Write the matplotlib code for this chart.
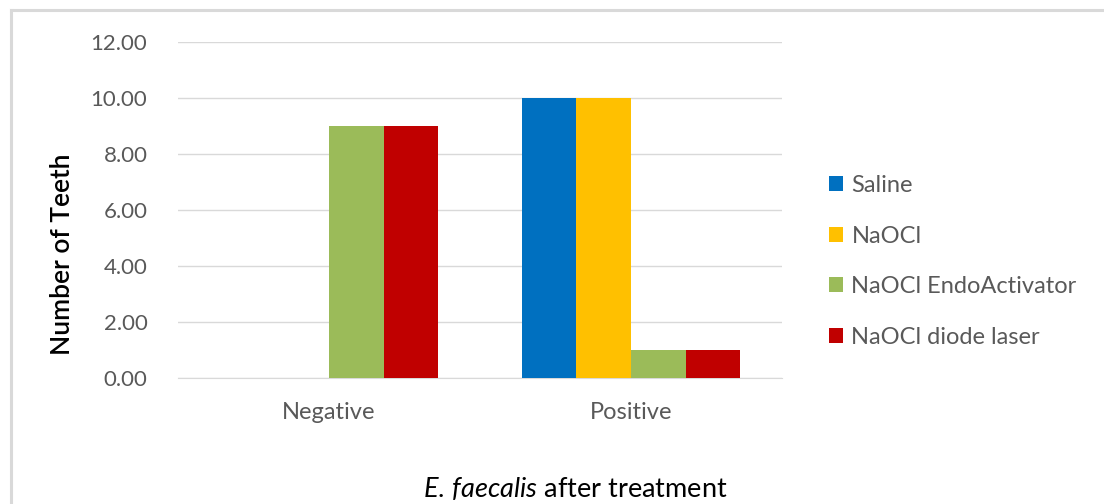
import matplotlib
matplotlib.use("Agg")
import matplotlib.pyplot as plt
import numpy as np
from matplotlib.lines import Line2D
from matplotlib.patches import Patch

categories = ["Negative", "Positive"]
series_names = ["Saline", "NaOCl", "NaOCl EndoActivator", "NaOCl diode laser"]
saline = [0, 10]
naocl = [0, 10]
endo = [9, 1]
laser = [9, 1]
yticks = [0, 2, 4, 6, 8, 10, 12]
colors = ["#0070C0", "#FFC000", "#9BBB59", "#C00000"]

plt.rcParams['font.family'] = ['Lato', 'DejaVu Sans']
plt.rcParams['mathtext.fontset'] = 'custom'
plt.rcParams['mathtext.it'] = 'Lato:italic'
plt.rcParams['mathtext.rm'] = 'Lato'

W, H = 1104, 504
fig = plt.figure(figsize=(W / 100, H / 100), dpi=100)
fig.patch.set_facecolor("white")

# outer frame (top and left visible)
fig.add_artist(Line2D([10.5 / W, 10.5 / W], [0, 1 - 9.5 / H], transform=fig.transFigure,
                      color="#d9d9d9", lw=2.2))
fig.add_artist(Line2D([10.5 / W, 1], [1 - 9.5 / H, 1 - 9.5 / H], transform=fig.transFigure,
                      color="#d9d9d9", lw=2.2))

ax = fig.add_axes([178 / W, 1 - 378 / H, (782 - 178) / W, (378 - 42) / H])
x = np.arange(len(categories))
bw = 0.181
data = [saline, naocl, endo, laser]
for i, (vals, c, name) in enumerate(zip(data, colors, series_names)):
    ax.bar(x + (i - 1.5) * bw, vals, width=bw, color=c, label=name, zorder=3)

ax.set_xlim(-0.5, 1.5)
ax.set_ylim(0, 12)
ax.set_yticks(yticks)
ax.set_yticklabels([f"{v:.2f}" for v in yticks])
ax.set_xticks(x)
ax.set_xticklabels(categories)
ax.grid(axis="y", color="#d9d9d9", lw=1, zorder=0)
for s in ["top", "right", "left"]:
    ax.spines[s].set_visible(False)
ax.spines["bottom"].set_color("#d9d9d9")
ax.tick_params(axis="both", length=0, labelsize=16, labelcolor="#595959")
ax.tick_params(axis="x", labelsize=17)
ax.tick_params(axis="y", pad=22)
ax.tick_params(axis="x", pad=17)

fig.text(62 / W, 1 - 254 / H, "Number of Teeth", rotation=90, ha="center", va="center",
         fontsize=19, fontweight="semibold", color="#000000")
fig.text(575 / W, 1 - 488 / H, r"$\it{E.\,faecalis}$ after treatment", ha="center",
         va="center", fontsize=19.5, color="#000000")

handles = [Patch(facecolor=c, edgecolor="none") for c in colors]
fig.legend(handles, series_names, loc="upper left", bbox_to_anchor=(829 / W, 1 - 175 / H),
           frameon=False, fontsize=17, labelcolor="#595959", handlelength=0.6,
           handleheight=0.6, handletextpad=0.35, labelspacing=1.25, borderaxespad=0,
           borderpad=0)

fig.savefig("out.png", dpi=100, facecolor="white")
